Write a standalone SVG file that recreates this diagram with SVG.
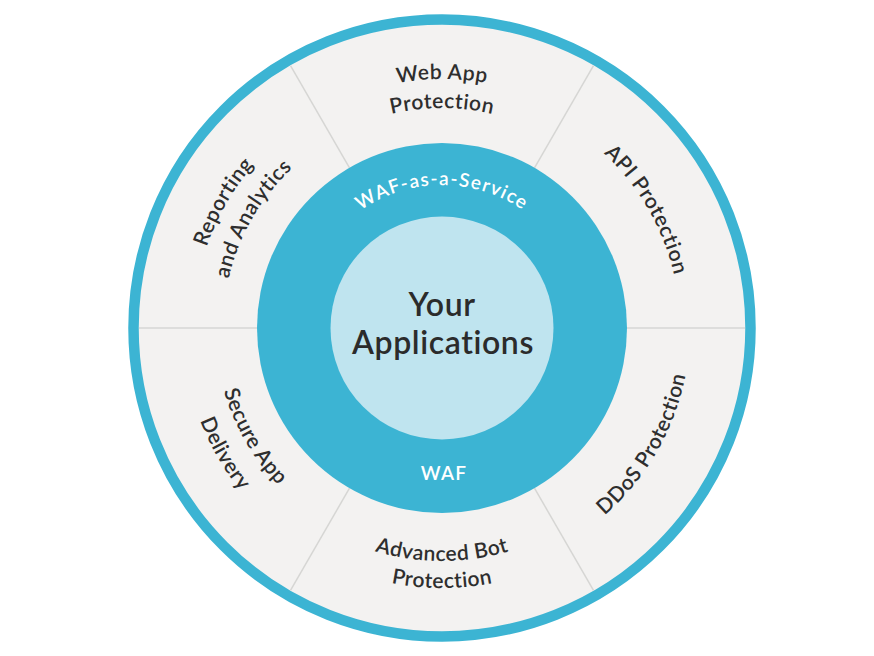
<svg xmlns="http://www.w3.org/2000/svg" width="874" height="656" viewBox="0 0 874 656">
<style>
.lbl{font-family:Lato,"Open Sans",sans-serif;font-weight:600;font-size:21px;fill:#2e2e2e;letter-spacing:0.5px}
.wht{font-family:Lato,"Open Sans",sans-serif;font-weight:600;font-size:19px;fill:#ffffff;letter-spacing:1.3px}
.ctr{font-family:Lato,"Open Sans",sans-serif;font-weight:600;font-size:32px;fill:#2b2b2b;letter-spacing:0.6px}
.div{stroke:#d6d6d4;stroke-width:1.5}
</style>
<defs>
<path id="pTop1" d="M226.4,203.5 A249,249 0 0 1 657.6,203.5"/>
<path id="pTop2" d="M251.5,218 A220,220 0 0 1 632.5,218"/>
<path id="pWaas" d="M318.2,256.5 A143,143 0 0 1 565.8,256.5"/>
<path id="pApi" d="M442,90 A238,238 0 0 1 648.1,447"/>
<path id="pDdos" d="M442,576 A248,248 0 0 0 656.8,204"/>
<path id="pBot1" d="M240.2,444.5 A233,233 0 0 0 643.8,444.5"/>
<path id="pBot2" d="M216.8,458 A260,260 0 0 0 667.2,458"/>
<path id="pSec1" d="M245.4,214.5 A227,227 0 0 0 442,555"/>
<path id="pSec2" d="M217.7,198.5 A259,259 0 0 0 442,587"/>
<path id="pRep1" d="M226.4,452.5 A249,249 0 0 1 442,79"/>
<path id="pRep2" d="M252.3,437.5 A219,219 0 0 1 442,109"/>
</defs>
<rect width="874" height="656" fill="#ffffff"/>
<g id="outer-ring">
<circle cx="442" cy="328" r="308.5" fill="#f3f2f1" stroke="#3cb4d3" stroke-width="10.5"/>
</g>
<g id="connectors">
<line class="div" x1="627" y1="328" x2="745" y2="328"/>
<line class="div" x1="534.5" y1="167.8" x2="593.5" y2="65.6"/>
<line class="div" x1="349.5" y1="167.8" x2="290.5" y2="65.6"/>
<line class="div" x1="257" y1="328" x2="139" y2="328"/>
<line class="div" x1="349.5" y1="488.2" x2="290.5" y2="590.4"/>
<line class="div" x1="534.5" y1="488.2" x2="593.5" y2="590.4"/>
</g>
<g id="waf">
<circle cx="442" cy="328" r="185" fill="#3cb4d3"/>
<text class="wht"><textPath href="#pWaas" startOffset="50%" text-anchor="middle">WAF-as-a-Service</textPath></text>
<text class="wht" x="444" y="480" text-anchor="middle" font-size="21" letter-spacing="1.8">WAF</text>
</g>
<g id="your-applications">
<circle cx="442" cy="328" r="111.5" fill="#bfe4ef"/>
<text class="ctr" x="442" y="315.7" text-anchor="middle">Your</text>
<text class="ctr" x="443" y="354" text-anchor="middle">Applications</text>
</g>
<g id="web-app-protection">
<text class="lbl" letter-spacing="0.85"><textPath href="#pTop1" startOffset="50%" text-anchor="middle">Web App</textPath></text>
<text class="lbl" letter-spacing="0.45"><textPath href="#pTop2" startOffset="50%" text-anchor="middle">Protection</textPath></text>
</g>
<g id="api-protection">
<text class="lbl" letter-spacing="0.15"><textPath href="#pApi" startOffset="50%" text-anchor="middle">API Protection</textPath></text>
</g>
<g id="ddos-protection">
<text class="lbl" letter-spacing="1.45"><textPath href="#pDdos" startOffset="50%" text-anchor="middle">DDoS Protection</textPath></text>
</g>
<g id="advanced-bot-protection">
<text class="lbl" letter-spacing="1.4"><textPath href="#pBot1" startOffset="50%" text-anchor="middle">Advanced Bot</textPath></text>
<text class="lbl" letter-spacing="1.15"><textPath href="#pBot2" startOffset="50%" text-anchor="middle">Protection</textPath></text>
</g>
<g id="secure-app-delivery">
<text class="lbl" letter-spacing="1.15"><textPath href="#pSec1" startOffset="50%" text-anchor="middle">Secure App</textPath></text>
<text class="lbl" letter-spacing="1.15"><textPath href="#pSec2" startOffset="50%" text-anchor="middle">Delivery</textPath></text>
</g>
<g id="reporting-and-analytics">
<text class="lbl" letter-spacing="0.55"><textPath href="#pRep1" startOffset="50%" text-anchor="middle">Reporting</textPath></text>
<text class="lbl" letter-spacing="0.25"><textPath href="#pRep2" startOffset="50%" text-anchor="middle">and Analytics</textPath></text>
</g>
</svg>
